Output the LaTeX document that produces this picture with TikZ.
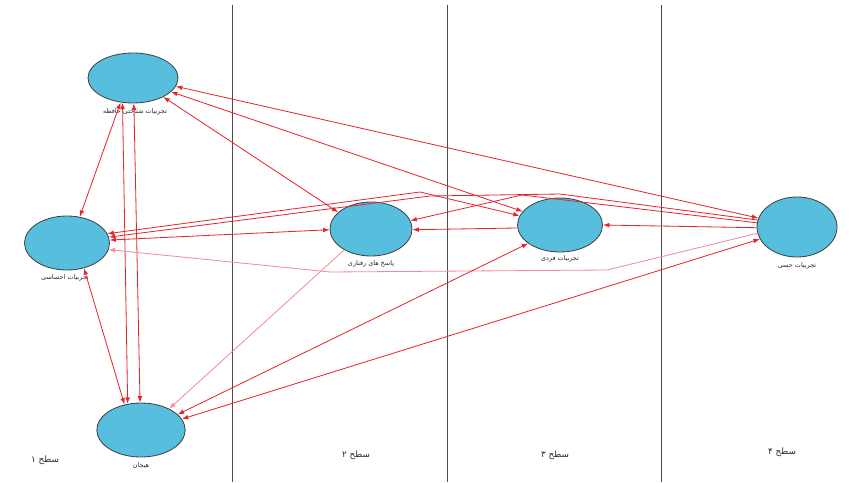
\documentclass[tikz,border=0pt]{standalone}
\usepackage{fontspec}
\newfontfamily\farsi[Script=Arabic]{DejaVu Sans}
\TeXXeTstate=1
\usepackage{tikz}
\usetikzlibrary{arrows.meta, shapes.geometric}
\definecolor{cnode}{RGB}{88,190,222}
\definecolor{cedge}{RGB}{228,38,44}
\definecolor{cpale}{RGB}{240,140,152}

\begin{document}
\begin{tikzpicture}[
  x=0.03cm, y=-0.03cm,
  >={Latex[length=5.5pt,width=4pt]},
  state/.style  = {ellipse, draw=black!75, fill=cnode, line width=0.7pt,
                   inner sep=0pt, minimum width=2.55cm, minimum height=1.62cm},
  lbl/.style    = {font=\farsi\fontsize{5.5}{6}\selectfont, text=black!85,
                   inner sep=1pt},
  lvl/.style    = {font=\farsi\fontsize{7.5}{8}\selectfont, text=black!85},
  arr/.style    = {->, cedge, line width=0.7pt},
  biarr/.style  = {<->, cedge, line width=0.7pt},
  pale/.style   = {->, cpale, line width=0.7pt},
  divider/.style= {black!70, line width=0.7pt},
]
\useasboundingbox (0,0) rectangle (853,482);

% level dividers
\foreach \x in {232,447,661}
  \draw[divider] (\x,5) -- (\x,482);

% states
\node[state, minimum width=2.7cm, minimum height=1.5cm] (mem) at (133,78)
  {};
\node[lbl] (memlbl) at (135,112) {\beginR تجربیات شناختی حافظه\endR};
\node[state] (emo)   at (67,243)  {};
\node[lbl]   (emolbl) at (65,278) {\beginR تجربیات احساسی\endR};
\node[state, minimum width=2.65cm] (feel) at (141,430) {};
\node[lbl]   (feellbl) at (141,466) {\beginR هیجان\endR};
\node[state, minimum width=2.46cm] (resp) at (371,229) {};
\node[lbl]   (resplbl) at (371,264) {\beginR پاسخ های رفتاری\endR};
\node[state] (pers)  at (560,225) {};
\node[lbl]   (perslbl) at (560,259) {\beginR تجربیات فردی\endR};
\node[state, minimum width=2.4cm, minimum height=1.8cm] (sens) at (797,227) {};
\node[lbl]   (senslbl) at (797,266) {\beginR تجربیات حسی\endR};

% level names
\node[lvl] (lv1) at (45,460)  {\beginR سطح ۱\endR};
\node[lvl] (lv2) at (356,455) {\beginR سطح ۲\endR};
\node[lvl] (lv3) at (555,455) {\beginR سطح ۳\endR};
\node[lvl] (lv4) at (782,452) {\beginR سطح ۴\endR};

% bends
\coordinate (tE)  at (420,192);
\coordinate (tF1) at (560,194);
\coordinate (tF2) at (430,196);
\coordinate (tD)  at (522,195);
\coordinate (bF1) at (607,270);
\coordinate (bF2) at (330,272);

% connectors
\draw[biarr] (mem.243) -- (emo.64);
\draw[biarr] (mem.247) -- (feel.117);
\draw[biarr] (mem.272) -- (feel.92);
\draw[biarr] (emo.304) -- (feel.123);
\draw[biarr] (mem.349) -- (sens.167);
\draw[biarr] (mem.340) -- (pers.160);
\draw[biarr] (mem.328) -- (resp.153);
\draw[biarr] (emo.4)   -- (resp.181);
\draw[biarr] (emo.13)  -- (tE) -- (pers.167);
\draw[arr]   (sens.170) -- (tF1) -- (tF2) -- (emo.8);
\draw[arr]   (sens.174) -- (tD) -- (resp.12);
\draw[arr]   (pers.184) -- (resp.359);
\draw[arr]   (sens.181) -- (pers.0);
\draw[pale]  (sens.189) -- (bF1) -- (bF2) -- (emo.351);
\draw[pale]  (resp.218) -- (feel.37);
\draw[biarr] (pers.210) -- (feel.23);
\draw[biarr] (sens.198) -- (feel.15);
\end{tikzpicture}
\end{document}
